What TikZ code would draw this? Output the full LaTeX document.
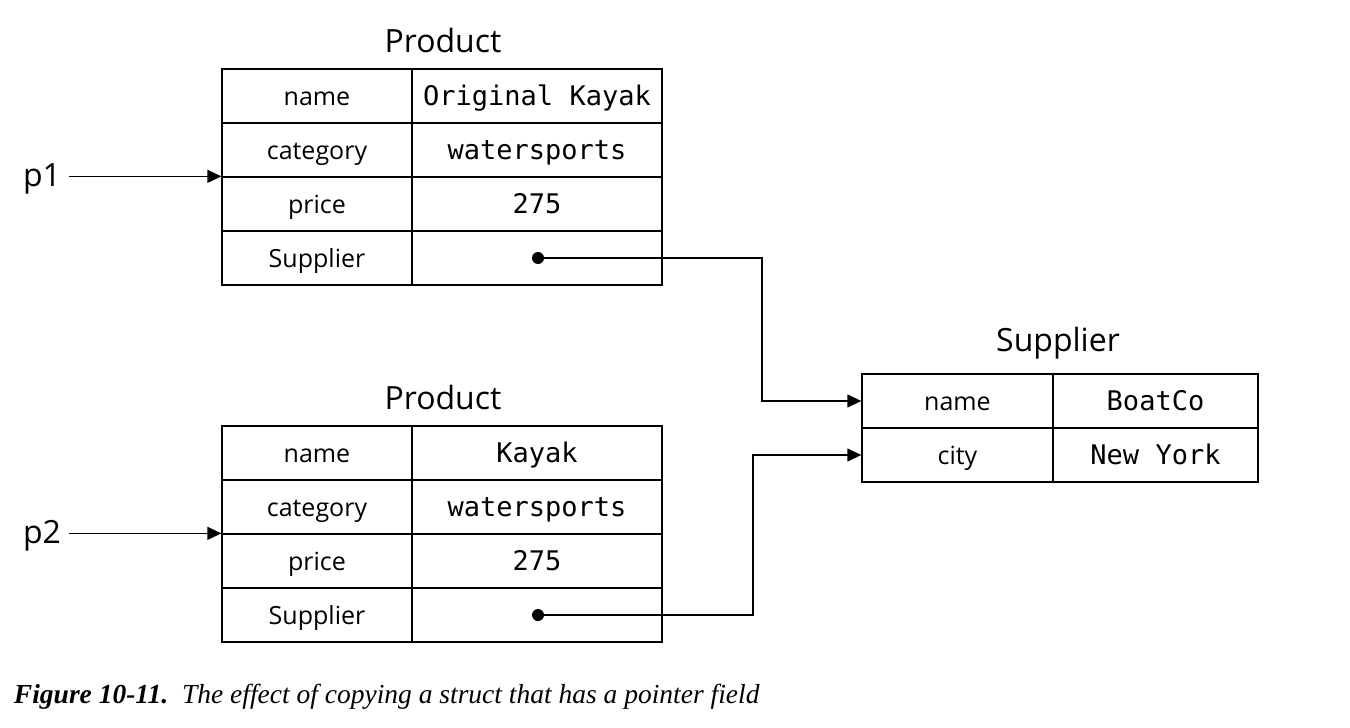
\documentclass[tikz,border=0pt]{standalone}
\usepackage{fontspec}
\setmainfont{Liberation Serif}
\newfontfamily\labelfont{Open Sans}
\newfontfamily\codefont{DejaVu Sans Mono}
\usetikzlibrary{arrows.meta}
\begin{document}
\begin{tikzpicture}[x=1pt,y=-1pt,line width=1.3pt,
    cell/.style={draw,minimum height=54pt,inner sep=0pt,text height=21pt,text depth=2pt,
      font=\labelfont\fontsize{25}{25}\selectfont},
    key/.style={cell,minimum width=190pt},
    val/.style={cell,minimum width=250pt,font=\codefont\fontsize{27}{27}\selectfont},
    title/.style={font=\labelfont\fontsize{32}{32}\selectfont},
    dot/.style={circle,fill,inner sep=0pt,minimum size=12pt},
    ptr/.style={-{Triangle[length=14pt,width=13pt]}}]
    \useasboundingbox (0,0) rectangle (1350,728);
    \node[title] (t1) at (443,40) {Product};
    \node[key] (a1) at (317,96) {name};
    \node[val] (b1) at (537,96) {Original Kayak};
    \node[key] (a2) at (317,150) {category};
    \node[val] (b2) at (537,150) {watersports};
    \node[key] (a3) at (317,204) {price};
    \node[val] (b3) at (537,204) {275};
    \node[key] (a4) at (317,258) {Supplier};
    \node[val] (b4) at (537,258) {};
    \node[title] (p1) at (42,179) {p1};
    \draw[ptr] (p1.east |- a3.north west) ++(4,0) -- (a3.north west);
    \node[dot] (d1) at (538,258) {};

    \node[title] (t2) at (443,397) {Product};
    \node[key] (c1) at (317,453) {name};
    \node[val] (e1) at (537,453) {Kayak};
    \node[key] (c2) at (317,507) {category};
    \node[val] (e2) at (537,507) {watersports};
    \node[key] (c3) at (317,561) {price};
    \node[val] (e3) at (537,561) {275};
    \node[key] (c4) at (317,615) {Supplier};
    \node[val] (e4) at (537,615) {};
    \node[title] (p2) at (42,536) {p2};
    \draw[ptr] (p2.east |- c3.north west) ++(4,0) -- (c3.north west);
    \node[dot] (d2) at (538,615) {};

    \node[title] (t3) at (1058,343) {Supplier};
    \node[key,minimum width=191pt] (s1) at (957.5,401) {name};
    \node[val,minimum width=205pt] (u1) at (1155.5,401) {BoatCo};
    \node[key,minimum width=191pt] (s2) at (957.5,455) {city};
    \node[val,minimum width=205pt] (u2) at (1155.5,455) {New York};

    \draw[ptr] (d1.center) -- ++(224,0) |- (s1.west);
    \draw[ptr] (d2.center) -- ++(215,0) |- (s2.west);

    \node[anchor=west,font=\fontsize{27.5}{27.5}\selectfont\itshape] (cap) at (10,697)
      {\bfseries Figure 10-11.\enspace\mdseries The effect of copying a struct that has a pointer field};
\end{tikzpicture}
\end{document}
